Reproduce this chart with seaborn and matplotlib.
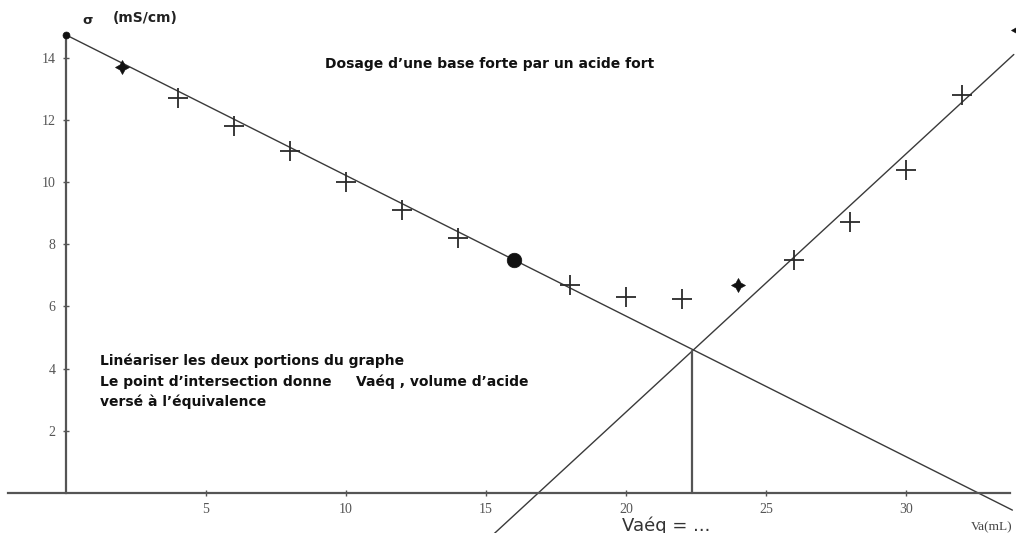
import matplotlib
matplotlib.use("Agg")
import matplotlib.pyplot as plt
import seaborn as sns
import pandas as pd

# ---- data ----
va = [0, 2, 4, 6, 8, 10, 12, 14, 16, 18, 20, 22, 24, 26, 28, 30, 32, 34]
sigma = [14.73, 13.7, 12.7, 11.8, 11.0, 10.0, 9.1, 8.2, 7.5, 6.7, 6.3, 6.25, 6.7, 7.5, 8.7, 10.4, 12.8, 14.9]
kind = ["dot", "star", "plus", "plus", "plus", "plus", "plus", "plus", "circle",
        "plus", "plus", "plus", "star", "plus", "plus", "plus", "plus", "star"]

line1_va = [0, 33.8]
line1_sigma = [14.73, -0.55]
line2_va = [15.3, 33.85]
line2_sigma = [-1.3, 14.1]
vaeq = 22.35
sigma_eq = 4.55

xticks = [5, 10, 15, 20, 25, 30]
yticks = [2, 4, 6, 8, 10, 12, 14]

title = "Dosage d\u2019une base forte par un acide fort"
note = ["Lin\u00e9ariser les deux portions du graphe",
        "Le point d\u2019intersection donne     Va\u00e9q , volume d\u2019acide",
        "vers\u00e9 \u00e0 l\u2019\u00e9quivalence"]

df = pd.DataFrame({"Va": va, "sigma": sigma, "kind": kind})

sns.set_theme(style="white")
plt.rcParams["font.family"] = ["DejaVu Sans"]

fig = plt.figure(figsize=(10.16, 5.33), dpi=100)
ax = fig.add_axes([0, 0, 1, 1])
ax.set_xlim(-66 / 28, (1016 - 66) / 28)
ax.set_ylim((493 - 533) / 31.1, 493 / 31.1)

line_col = "#3a3a3a"
# fitted lines
sns.lineplot(x=line1_va, y=line1_sigma, ax=ax, color=line_col, lw=1.0, sort=False, estimator=None)
sns.lineplot(x=line2_va, y=line2_sigma, ax=ax, color=line_col, lw=1.0, sort=False, estimator=None)
sns.lineplot(x=[vaeq, vaeq], y=[0, sigma_eq], ax=ax, color="#555555", lw=1.6, sort=False,
             estimator=None)

# points
markers = {"star": (4, 1, 0), "circle": "o", "dot": "o"}
sizes = {"plus": 200, "star": 100, "circle": 110, "dot": 25}
for k in ["plus", "star", "circle", "dot"]:
    sub = df[df["kind"] == k]
    if k == "plus":
        sns.scatterplot(data=sub, x="Va", y="sigma", ax=ax, marker="+", s=sizes[k],
                        color="#2a2a2a", linewidth=1.3, zorder=5)
    else:
        sns.scatterplot(data=sub, x="Va", y="sigma", ax=ax, marker=markers[k], s=sizes[k],
                        color="#111111", edgecolor="#111111", linewidth=0.5, zorder=5)

# axes as spines through origin
for s in ["top", "right"]:
    ax.spines[s].set_visible(False)
ax.spines["left"].set_position(("data", 0))
ax.spines["bottom"].set_position(("data", 0))
ax.spines["left"].set_bounds(0, 14.73)
ax.spines["bottom"].set_bounds(-2.07, 33.7)
for s in ["left", "bottom"]:
    ax.spines[s].set_color("#555555")
    ax.spines[s].set_linewidth(1.6)
ax.annotate("", xy=(33.95, 0), xytext=(33.5, 0),
            arrowprops=dict(arrowstyle="-|>", color="#555555", lw=1.2, mutation_scale=10))

ax.set_xticks(xticks)
ax.set_yticks(yticks)
ax.set_xticklabels([str(t) for t in xticks])
ax.set_yticklabels([str(t) for t in yticks])
ax.tick_params(axis="both", direction="inout", length=5, width=1, color="#555555",
               labelsize=10, labelcolor="#555555", pad=5, bottom=True, left=True)
for lab in ax.get_xticklabels() + ax.get_yticklabels():
    lab.set_family("Liberation Serif")
ax.set_xlabel("")
ax.set_ylabel("")
ax.grid(False)

# texts
ax.text(490 / 28 - 66 / 28, (493 - 64) / 31.1, title, ha="center", va="center",
        fontsize=10, fontweight="bold", color="#111111")
ax.text((88 - 66) / 28, (493 - 21) / 31.1, "\u03c3", ha="center", va="center",
        fontsize=9.5, fontweight="bold", color="#222222")
ax.text((113 - 66) / 28, (493 - 18) / 31.1, "(mS/cm)", ha="left", va="center",
        fontsize=10, fontweight="bold", color="#222222")
for i, line in enumerate(note):
    ax.text((100 - 66) / 28, (493 - 361 - 20.5 * i) / 31.1, line, ha="left", va="center",
            fontsize=10, fontweight="bold", color="#111111")
ax.text((622 - 66) / 28, (493 - 531) / 31.1, "Va\u00e9q = ...", ha="left", va="baseline",
        fontsize=13, color="#333333")
ax.text((971 - 66) / 28, (493 - 527) / 31.1, "Va(mL)", ha="left", va="center",
        fontsize=9.5, color="#444444", family="Liberation Serif")

fig.savefig("out.png", dpi=100)
